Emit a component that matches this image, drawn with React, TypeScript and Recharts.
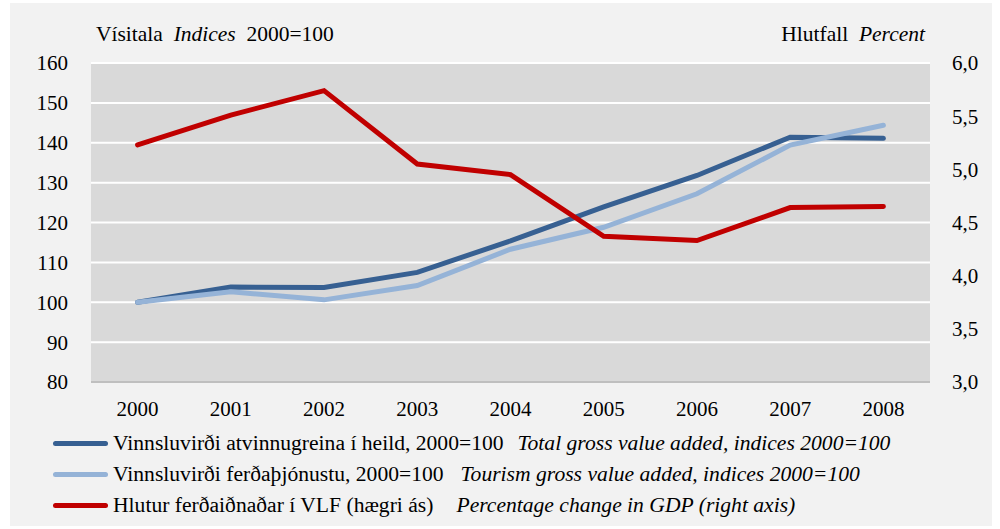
import { CartesianGrid, Legend, Line, LineChart, XAxis, YAxis } from "recharts";

const years = ["2000", "2001", "2002", "2003", "2004", "2005", "2006", "2007", "2008"];
const totalGva = [100, 103.8, 103.7, 107.5, 115.4, 123.9, 131.8, 141.4, 141.1];
const tourismGva = [100, 102.6, 100.6, 104.2, 113.3, 118.8, 127.2, 139.4, 144.4];
const tourismShare = [5.23, 5.51, 5.74, 5.05, 4.95, 4.37, 4.33, 4.64, 4.65];

const leftTicks = [80, 90, 100, 110, 120, 130, 140, 150, 160];
const rightTicks = [3.0, 3.5, 4.0, 4.5, 5.0, 5.5, 6.0];

const seriesInfo = [
  { key: "total", is: "Vinnsluvirði atvinnugreina í heild, 2000=100", en: "Total gross value added, indices 2000=100", color: "#376092" },
  { key: "tourism", is: "Vinnsluvirði ferðaþjónustu, 2000=100", en: "Tourism gross value added, indices 2000=100", color: "#95b3d7" },
  { key: "share", is: "Hlutur ferðaiðnaðar í VLF (hægri ás)", en: "Percentage change in GDP (right axis)", color: "#c00000" },
];

const data = years.map((year, i) => ({
  year,
  total: totalGva[i],
  tourism: tourismGva[i],
  share: tourismShare[i],
}));

const FONT = "Liberation Serif, DejaVu Serif, serif";
const tickStyle = { fontSize: 21, fontFamily: FONT, fill: "#000" };
// gap between the Icelandic and the English text of each legend row
const legendGaps = [14, 17, 23];

function LegendBox() {
  return (
    <div style={{ height: 107, fontFamily: FONT, fontSize: 21.6, color: "#000", position: "relative" }}>
      {seriesInfo.map((s, i) => (
        <div
          key={s.key}
          style={{ position: "absolute", left: 53, top: 7 + i * 31, height: 28, display: "flex", alignItems: "center", whiteSpace: "nowrap" }}
        >
          <span style={{ display: "inline-block", width: 55, height: 5, borderRadius: 3, background: s.color, marginRight: 5 }} />
          <span>{s.is}</span>
          <span style={{ fontStyle: "italic", marginLeft: legendGaps[i] }}>{s.en}</span>
        </div>
      ))}
    </div>
  );
}

export default function App() {
  return (
    <div style={{ position: "absolute", left: 0, top: 0, width: 1000, height: 529, background: "#fff" }}>
      <div style={{ position: "absolute", left: 10, top: 3, width: 982, height: 523, background: "#f2f2f2" }} />
      <div style={{ position: "absolute", left: 96, top: 22, fontFamily: FONT, fontSize: 21.5, whiteSpace: "nowrap" }}>
        Vísitala&nbsp; <i>Indices</i>&nbsp; 2000=100
      </div>
      <div style={{ position: "absolute", right: 1000 - 925, top: 22, fontFamily: FONT, fontSize: 21.5, whiteSpace: "nowrap" }}>
        Hlutfall&nbsp; <i>Percent</i>
      </div>
      <div style={{ position: "absolute", left: 0, top: 0 }}>
        <LineChart width={1000} height={529} data={data} margin={{ top: 63, right: 0, bottom: 0, left: 0 }}>
          <CartesianGrid yAxisId="left" vertical={false} fill="#d9d9d9" stroke="#ffffff" strokeWidth={2} />
          <XAxis
            dataKey="year"
            padding={{ left: 46.6, right: 46.6 }}
            height={40}
            tickLine={false}
            tickSize={0}
            tickMargin={19}
            axisLine={{ stroke: "#bfbfbf", strokeWidth: 2 }}
            tick={tickStyle}
            interval={0}
          />
          <YAxis
            yAxisId="left"
            orientation="left"
            width={91}
            domain={[80, 160]}
            ticks={leftTicks}
            tickLine={false}
            axisLine={false}
            tickSize={0}
            tickMargin={23}
            tick={tickStyle}
            interval={0}
          />
          <YAxis
            yAxisId="right"
            orientation="right"
            width={70}
            domain={[3, 6]}
            ticks={rightTicks}
            tickLine={false}
            axisLine={false}
            tickSize={0}
            tickMargin={22}
            tick={tickStyle}
            interval={0}
            tickFormatter={(v: number) => v.toFixed(1).replace(".", ",")}
          />
          <Legend verticalAlign="bottom" wrapperStyle={{ left: 0, width: 1000 }} content={() => <LegendBox />} />
          <Line yAxisId="left" dataKey="total" stroke="#376092" strokeWidth={5} dot={false} strokeLinecap="round" isAnimationActive={false} />
          <Line yAxisId="left" dataKey="tourism" stroke="#95b3d7" strokeWidth={5} dot={false} strokeLinecap="round" isAnimationActive={false} />
          <Line yAxisId="right" dataKey="share" stroke="#c00000" strokeWidth={5} dot={false} strokeLinecap="round" isAnimationActive={false} />
        </LineChart>
      </div>
    </div>
  );
}
